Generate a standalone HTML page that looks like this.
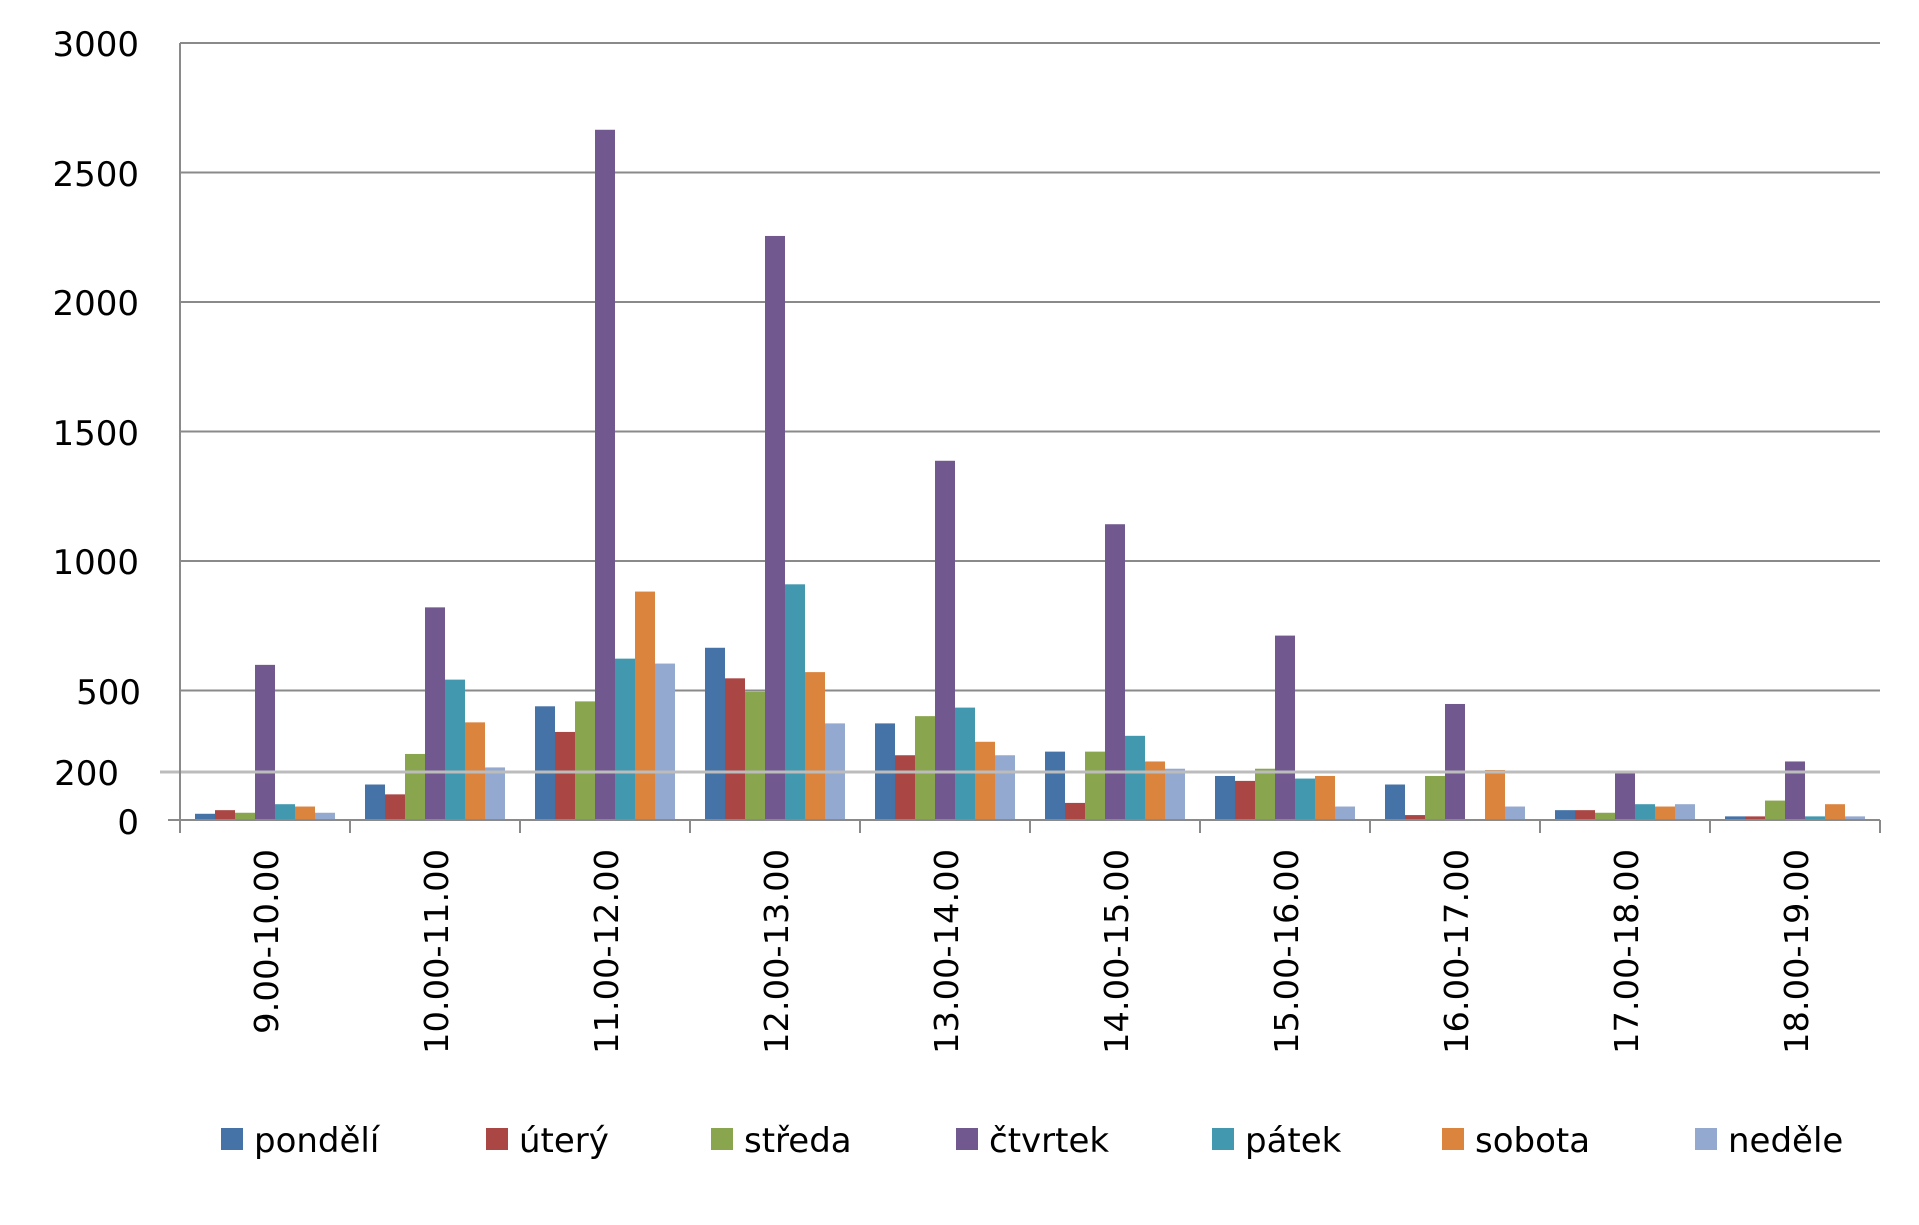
<!DOCTYPE html>
<html><head><meta charset="utf-8"><style>
html,body{margin:0;padding:0;background:#fff}
text{font-family:"DejaVu Sans","Liberation Sans",sans-serif;fill:#000}
</style></head><body>
<svg width="1919" height="1220" viewBox="0 0 1919 1220" xmlns="http://www.w3.org/2000/svg">
<g stroke="#8a8a8a" stroke-width="2">
<line x1="180" y1="43" x2="1880" y2="43"/>
<line x1="180" y1="172.5" x2="1880" y2="172.5"/>
<line x1="180" y1="302" x2="1880" y2="302"/>
<line x1="180" y1="431.5" x2="1880" y2="431.5"/>
<line x1="180" y1="561" x2="1880" y2="561"/>
<line x1="180" y1="690.5" x2="1880" y2="690.5"/>
</g>
<g id="bars"></g>
<line x1="160" y1="772" x2="1880" y2="772" stroke="#bcbcbc" stroke-width="3"/>
<g stroke="#8a8a8a" stroke-width="2">
<line x1="180" y1="43" x2="180" y2="833"/>
<line x1="168" y1="820" x2="1880" y2="820"/>
<line x1="350" y1="820" x2="350" y2="833"/><line x1="520" y1="820" x2="520" y2="833"/>
<line x1="690" y1="820" x2="690" y2="833"/><line x1="860" y1="820" x2="860" y2="833"/>
<line x1="1030" y1="820" x2="1030" y2="833"/><line x1="1200" y1="820" x2="1200" y2="833"/>
<line x1="1370" y1="820" x2="1370" y2="833"/><line x1="1540" y1="820" x2="1540" y2="833"/>
<line x1="1710" y1="820" x2="1710" y2="833"/><line x1="1880" y1="820" x2="1880" y2="833"/>
</g>
<g font-size="34" text-anchor="end">
<text x="139" y="56">3000</text>
<text x="139" y="186">2500</text>
<text x="139" y="315">2000</text>
<text x="139" y="445">1500</text>
<text x="139" y="574">1000</text>
<text x="141" y="704">500</text>
<text x="119" y="785">200</text>
<text x="139" y="834">0</text>
</g>
<g id="cats" font-size="33" text-anchor="end"></g>
<g font-size="34">
<rect x="221" y="1128" width="22" height="22" fill="#4572a7"/><text x="254" y="1152">pondělí</text>
<rect x="486" y="1128" width="22" height="22" fill="#aa4643"/><text x="519" y="1152">úterý</text>
<rect x="711" y="1128" width="22" height="22" fill="#89a54e"/><text x="744" y="1152">středa</text>
<rect x="956" y="1128" width="22" height="22" fill="#71588f"/><text x="989" y="1152">čtvrtek</text>
<rect x="1212" y="1128" width="22" height="22" fill="#4198af"/><text x="1245" y="1152">pátek</text>
<rect x="1442" y="1128" width="22" height="22" fill="#db843d"/><text x="1475" y="1152">sobota</text>
<rect x="1695" y="1128" width="22" height="22" fill="#93a9cf"/><text x="1728" y="1152">neděle</text>
</g>
<script>
var d=[[24,38,28,599,61,52,28],[137,99,255,821,542,377,203],[439,340,458,2665,623,882,604],[665,547,495,2255,910,571,373],[373,250,401,1387,434,302,250],[264,66,264,1142,325,226,198],[170,151,198,712,160,170,52],[137,19,170,448,0,193,52],[38,38,28,184,61,52,61],[14,14,75,226,14,61,14]];
var c=["#4572a7","#aa4643","#89a54e","#71588f","#4198af","#db843d","#93a9cf"];
var L=["9.00-10.00","10.00-11.00","11.00-12.00","12.00-13.00","13.00-14.00","14.00-15.00","15.00-16.00","16.00-17.00","17.00-18.00","18.00-19.00"];
var ns="http://www.w3.org/2000/svg",g=document.getElementById("bars"),t=document.getElementById("cats");
for(var i=0;i<10;i++){var cx=180+170*(i+0.5);
for(var j=0;j<7;j++){var v=d[i][j];if(!v)continue;var h=v*0.259;var r=document.createElementNS(ns,"rect");
r.setAttribute("x",cx-70+j*20);r.setAttribute("y",820-h);r.setAttribute("width",20);r.setAttribute("height",h);r.setAttribute("fill",c[j]);g.appendChild(r);}
var tx=document.createElementNS(ns,"text");tx.setAttribute("transform","translate("+(cx+13)+",849) rotate(-90)");
tx.setAttribute("textLength",i==0?185:205);tx.setAttribute("lengthAdjust","spacingAndGlyphs");tx.textContent=L[i];t.appendChild(tx);}
</script>
</svg>
</body></html>
